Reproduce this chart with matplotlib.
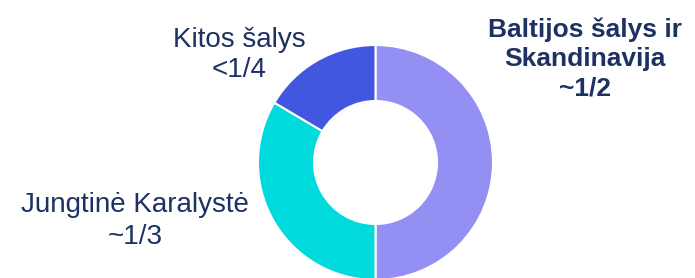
import matplotlib.pyplot as plt

# shares of the donut, clockwise from 12 o'clock
labels = ["Baltijos šalys ir\nSkandinavija\n~1/2", "Jungtinė Karalystė\n~1/3", "Kitos šalys\n<1/4"]
shares = [50, 33.5, 16.5]
colors = ["#948ff2", "#00dadc", "#4257e0"]

plt.rcParams['font.family'] = ['Liberation Sans', 'DejaVu Sans']
navy = "#1d3163"

fig = plt.figure(figsize=(6.95, 2.78), dpi=100)
ax = fig.add_axes([0, 0, 1, 1])

# pixel-like coordinates, y up
ax.pie(shares, colors=colors, startangle=90, counterclock=False,
       center=(375.5, 115.5), radius=117.5,
       wedgeprops=dict(width=56, edgecolor="white", linewidth=1.5))
ax.set_xlim(0, 695)
ax.set_ylim(0, 278)
ax.set_aspect('equal')
ax.axis('off')

ax.text(585, 219, labels[0], ha='center', va='center', fontsize=19,
        fontweight='bold', color=navy, linespacing=1.27)
ax.text(135, 57, labels[1], ha='center', va='center', fontsize=20,
        color=navy, linespacing=1.25)
ax.text(239, 223, labels[2], ha='center', va='center', fontsize=20,
        color=navy, linespacing=1.22)

fig.savefig('out.png', dpi=100)
